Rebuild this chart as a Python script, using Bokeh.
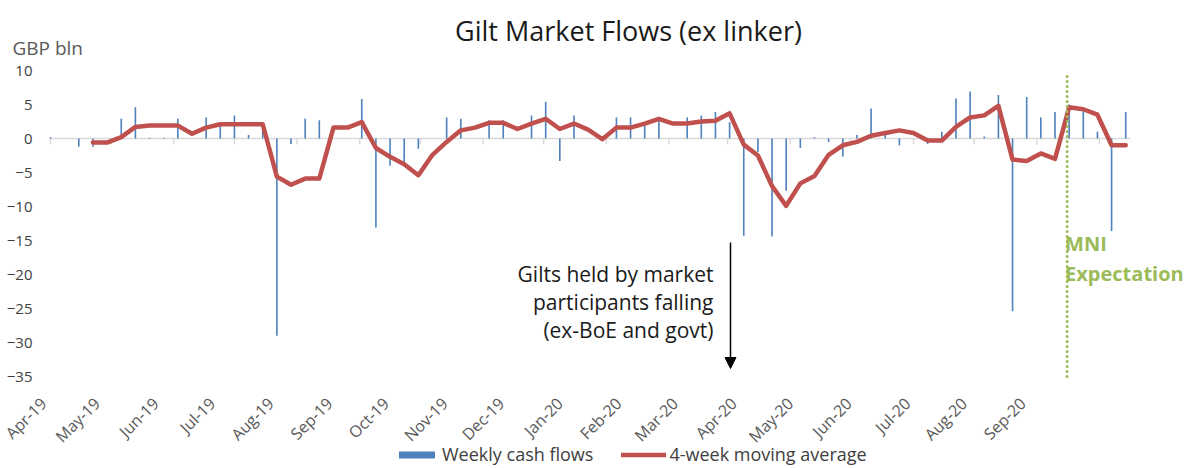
import math
import numpy as np
import pandas as pd
from bokeh.plotting import figure
from bokeh.models import (Range1d, FixedTicker, Legend, LegendItem,
                          ColumnDataSource, Arrow, NormalHead)
from bokeh.embed import file_html
from bokeh.resources import INLINE
from bokeh.core.properties import value

# ---------------- data ----------------
first_week = "2019-04-01"
n_weeks = 77
weekly_flows = [
    0.2, 0.0, -1.2, -1.2, 0.0, 2.9, 4.6, 0.1, 0.1, 2.9,
    0.0, 3.1, 2.1, 3.4, 0.5, 2.4, -29.0, -0.8, 2.9, 2.7,
    0.0, 0.0, 5.8, -13.1, -4.0, -3.5, -1.5, 0.0, 3.1, 2.9,
    0.0, 2.7, 2.7, 0.0, 3.4, 5.4, -3.3, 3.4, 0.0, 0.0,
    3.1, 3.1, 2.0, 3.0, 0.0, 3.1, 3.4, 3.9, 2.4, -14.3,
    -2.0, -14.4, -7.7, -1.4, 0.2, -0.5, -2.7, 0.5, 4.4, 0.5,
    -1.0, 0.0, -0.8, 1.0, 5.9, 6.9, 0.3, 6.4, -25.4, 6.1,
    3.1, 3.9, 5.0, 4.0, 1.0, -13.6, 3.9,
]
ma_4wk = [
    np.nan, np.nan, np.nan, -0.6, -0.6, 0.2, 1.7, 1.9, 1.9, 1.9,
    0.7, 1.6, 2.1, 2.1, 2.1, 2.1, -5.6, -6.8, -5.9, -5.9,
    1.6, 1.6, 2.4, -1.4, -2.7, -3.8, -5.4, -2.4, -0.5, 1.2,
    1.6, 2.3, 2.3, 1.4, 2.2, 2.9, 1.4, 2.2, 1.3, -0.1,
    1.6, 1.6, 2.2, 2.9, 2.2, 2.2, 2.5, 2.6, 3.7, -0.9,
    -2.5, -7.0, -9.9, -6.6, -5.5, -2.4, -1.0, -0.5, 0.4, 0.8,
    1.2, 0.8, -0.3, -0.3, 1.7, 3.1, 3.4, 4.8, -3.1, -3.3,
    -2.2, -3.0, 4.6, 4.3, 3.5, -1.0, -1.0,
]
month_labels = ["Apr-19", "May-19", "Jun-19", "Jul-19", "Aug-19", "Sep-19",
                "Oct-19", "Nov-19", "Dec-19", "Jan-20", "Feb-20", "Mar-20",
                "Apr-20", "May-20", "Jun-20", "Jul-20", "Aug-20", "Sep-20"]
y_ticks = [10, 5, 0, -5, -10, -15, -20, -25, -30, -35]
y_min, y_max = -35, 10
mni_date = "2020-08-16"
title_text = "Gilt Market Flows (ex linker)"
unit_text = "GBP bln"
annotation_lines = ["Gilts held by market", "participants falling", "(ex-BoE and govt)"]

# ---------------- derived ----------------
t0 = pd.Timestamp(first_week)
weeks = pd.date_range(first_week, periods=n_weeks, freq="7D")
x_days = [(w - t0).days for w in weeks]
month_starts = pd.date_range("2019-04-01", "2020-09-01", freq="MS")
month_days = [(m - t0).days for m in month_starts]
label_days = [int(round(-5.45 + 28.6 * k)) for k in range(len(month_labels))]
mni_day = (pd.Timestamp(mni_date) - t0).days
last_day = x_days[-1] + 2.4

PX_PER_DAY = 2.0211
PX_PER_UNIT = 6.8
W, H = 1189, 468


def day_at(px):            # page pixel -> x data
    return -0.5 + (px - 49) / PX_PER_DAY


def val_at(py):            # page pixel -> y data (value 10 at page y 70)
    return y_max + (70 - py) / PX_PER_UNIT


FONT = "Open Sans"
BLUE = "#4F81BD"
RED = "#C0504D"
GREEN = "#9BBB59"
GRAY = "#D9D9D9"

p = figure(width=W, height=H, output_backend="svg", toolbar_location=None,
           x_range=Range1d(day_at(0), day_at(W)),
           y_range=Range1d(val_at(H), val_at(0)),
           min_border_left=0, min_border_right=0, min_border_top=0,
           min_border_bottom=0)
p.outline_line_color = None
p.grid.visible = False

# zero line & month ticks on it
p.segment(x0=[-0.5], y0=[0], x1=[last_day], y1=[0], line_color=GRAY, line_width=1.5)
p.segment(x0=month_days, y0=[0] * len(month_days), x1=month_days,
          y1=[-0.9] * len(month_days), line_color=GRAY, line_width=1.5)

src = ColumnDataSource(dict(x=x_days, flow=weekly_flows, ma=ma_4wk))
bars = p.vbar(x="x", top="flow", bottom=0, width=0.8, source=src,
              fill_color=BLUE, line_color=None)
line = p.line(x="x", y="ma", source=src, line_color=RED, line_width=4.5,
              line_join="round", line_cap="round")

# MNI expectation dotted line
p.line(x=[mni_day, mni_day], y=[9.1, val_at(381)], line_color=GREEN, line_width=3,
       line_dash="0 5", line_cap="round")
p.text(x=[mni_day - 1] * 2, y=[val_at(243), val_at(273)], text=["MNI", "Expectation"],
       text_color=GREEN, text_font=value(FONT), text_font_size="20px",
       text_font_style="bold", text_baseline="middle", text_align="left")

# annotation text + arrow
p.text(x=[day_at(713)] * 3, y=[val_at(273), val_at(301), val_at(329)],
       text=annotation_lines, text_align="right", text_baseline="middle",
       text_font=value(FONT), text_font_size="21px", text_color="#1a1a1a")
p.add_layout(Arrow(x_start=day_at(730), y_start=val_at(242), x_end=day_at(730),
                   y_end=val_at(368), line_color="black", line_width=1.5,
                   end=NormalHead(size=11, fill_color="black", line_color="black")))

# title and unit label
p.text(x=[day_at(628)], y=[val_at(30)], text=[title_text], text_align="center",
       text_baseline="middle", text_font=value(FONT), text_font_size="27px",
       text_color="#1a1a1a")
p.text(x=[day_at(12)], y=[val_at(47)], text=[unit_text], text_align="left",
       text_baseline="middle", text_font=value(FONT), text_font_size="19px",
       text_color="#595959")

# axes (fixed inside the canvas)
xa = p.xaxis[0]
xa.fixed_location = y_min
xa.ticker = FixedTicker(ticks=label_days)
xa.major_label_overrides = {d: lab for d, lab in zip(label_days, month_labels)}
xa.major_label_orientation = math.pi / 4
xa.axis_line_color = None
xa.major_tick_line_color = None
xa.minor_tick_line_color = None
xa.major_tick_out = 0
xa.major_tick_in = 0
xa.major_label_standoff = 24
xa.major_label_text_font = FONT
xa.major_label_text_font_size = "16px"
xa.major_label_text_color = "#595959"

ya = p.yaxis[0]
ya.fixed_location = day_at(37)
ya.ticker = FixedTicker(ticks=y_ticks)
ya.axis_line_color = None
ya.major_tick_line_color = None
ya.minor_tick_line_color = None
ya.major_tick_out = 0
ya.major_tick_in = 0
ya.major_label_standoff = 5
ya.major_label_text_font = FONT
ya.major_label_text_font_size = "15px"
ya.major_label_text_color = "#404040"

legend = Legend(items=[LegendItem(label="Weekly cash flows", renderers=[bars]),
                       LegendItem(label="4-week moving average", renderers=[line])],
                orientation="horizontal", location=(394, 2),
                glyph_width=45, glyph_height=9, label_standoff=3, spacing=28,
                padding=0, margin=0, border_line_color=None,
                background_fill_alpha=0, label_text_font=FONT,
                label_text_font_size="18px", label_text_color="#404040",
                label_height=18)
p.add_layout(legend, "center")

open("out.html", "w").write(file_html(p, INLINE))
